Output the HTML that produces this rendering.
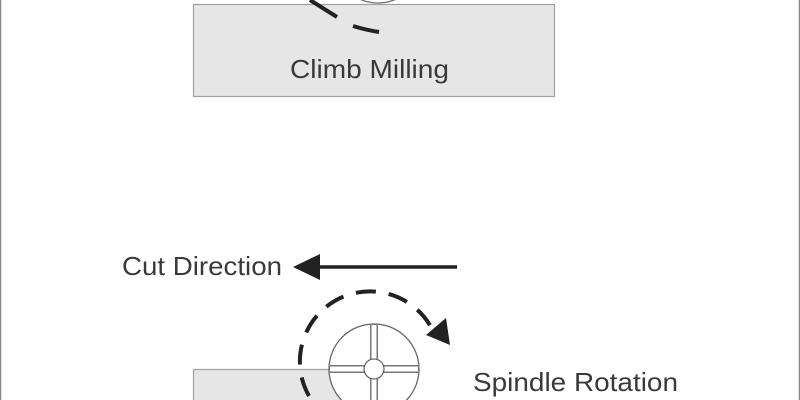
<!DOCTYPE html>
<html><head><style>
html,body{margin:0;padding:0;background:#fff;}
svg{display:block;}
text{font-family:"Liberation Sans",sans-serif;fill:#3a3a3a;}
</style></head><body>
<svg width="800" height="400" viewBox="0 0 800 400">
<rect x="0" y="0" width="800" height="400" fill="#fff"/>
<line x1="0.5" y1="0" x2="0.5" y2="400" stroke="#888" stroke-width="1.5"/>
<line x1="799.5" y1="0" x2="799.5" y2="400" stroke="#888" stroke-width="1.5"/>

<rect x="193.5" y="4.5" width="361" height="92" fill="#e6e6e6" stroke="#a0a0a0" stroke-width="1.2"/>
<text x="290" y="78" font-size="26" textLength="159" lengthAdjust="spacingAndGlyphs">Climb Milling</text>
<circle cx="378" cy="-42" r="45" fill="#fff" stroke="#777" stroke-width="1.3"/>
<line x1="310" y1="0" x2="337" y2="17" stroke="#222" stroke-width="4"/>
<path d="M 353 26 Q 366 30 379 32" fill="none" stroke="#222" stroke-width="4"/>

<text x="122" y="275" font-size="26" textLength="160" lengthAdjust="spacingAndGlyphs">Cut Direction</text>
<line x1="318" y1="267" x2="457" y2="267" stroke="#222" stroke-width="3.5"/>
<polygon points="293,267 320,254 320,280" fill="#222"/>

<rect x="193.5" y="369.5" width="190" height="40" fill="#e6e6e6" stroke="#a0a0a0" stroke-width="1.2"/>
<circle cx="374" cy="369" r="45" fill="#fff" stroke="#666" stroke-width="1.3"/>
<g stroke="#777" stroke-width="8">
<line x1="374" y1="324" x2="374" y2="414"/>
<line x1="329" y1="369" x2="419" y2="369"/>
</g>
<g stroke="#fff" stroke-width="5">
<line x1="374" y1="325" x2="374" y2="414"/>
<line x1="330" y1="369" x2="418" y2="369"/>
</g>
<circle cx="374" cy="369" r="10" fill="#fff" stroke="#666" stroke-width="1.3"/>
<path d="M 309 396 A 70 70 0 1 1 431 327" fill="none" stroke="#222" stroke-width="4" stroke-dasharray="20,13"/>
<polygon points="426,335 446,318 450,345" fill="#222"/>
<text x="473" y="391" font-size="26" textLength="205" lengthAdjust="spacingAndGlyphs">Spindle Rotation</text>
</svg>
</body></html>
